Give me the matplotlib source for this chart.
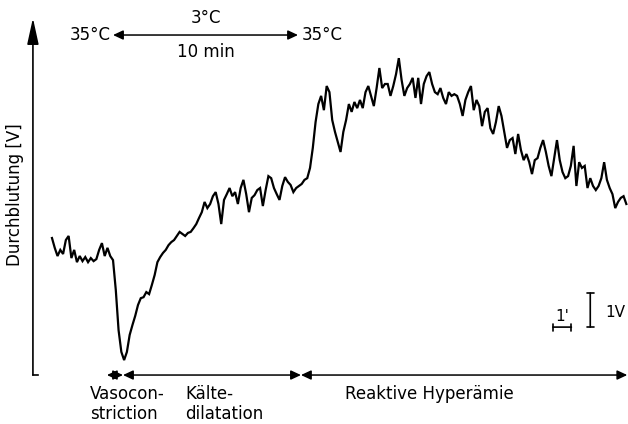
import numpy as np
import matplotlib
matplotlib.use("Agg")
import matplotlib.pyplot as plt

# recorder trace: flow in V, one sample every 0.15 min
dt = 0.15
flow = [
    4.03, 3.74, 3.50, 3.68, 3.56, 3.97, 4.09, 3.44, 3.68, 3.32,
    3.50, 3.35, 3.47, 3.32, 3.44, 3.35, 3.41, 3.68, 3.88, 3.50,
    3.74, 3.50, 3.38,
    2.50, 1.32, 0.68, 0.44, 0.68, 1.18, 1.47, 1.74, 2.06, 2.26,
    2.29, 2.44, 2.38, 2.65, 2.94, 3.32, 3.47, 3.59, 3.68, 3.82,
    3.91, 3.97, 4.09, 4.21, 4.15, 4.09, 4.18, 4.21, 4.32, 4.44,
    4.62, 4.79, 5.09, 4.91, 5.03, 5.26, 5.38, 5.03, 4.44, 5.15,
    5.32, 5.50, 5.26, 5.38, 5.03, 5.50, 5.74, 5.32, 4.79, 5.21,
    5.29, 5.44, 5.50, 4.97, 5.44, 5.85, 5.79, 5.50, 5.32, 5.15,
    5.56, 5.82, 5.68, 5.59, 5.38, 5.50, 5.56, 5.62, 5.74, 5.79,
    6.09, 6.68, 7.44, 7.97, 8.21, 7.79, 8.50, 8.32, 7.50, 7.15,
    6.85, 6.56, 7.15, 7.50,
    7.97, 7.74, 8.03, 7.85, 8.09, 7.85, 8.32, 8.50, 8.21, 7.91,
    8.44, 9.03, 8.44, 8.56, 8.56, 8.21, 8.50, 8.85, 9.32, 8.68,
    8.21, 8.44, 8.56, 8.74, 8.15, 8.74, 7.97, 8.56, 8.79, 8.91,
    8.56, 8.32, 8.26, 8.44, 8.15, 7.97, 8.32, 8.21, 8.26,
    8.21, 7.97, 7.62, 8.09, 8.32, 8.50, 7.79, 8.09, 7.91, 7.32,
    7.74, 7.85, 7.26, 7.09, 7.44, 7.91, 7.62, 7.15, 6.68, 6.91,
    6.97, 6.50, 7.09, 6.62, 6.32, 6.50, 6.26, 5.91, 6.32,
    6.38, 6.68, 6.91, 6.56, 6.15, 5.85, 6.38, 6.91, 6.32, 5.97,
    5.79, 5.85, 6.15, 6.74, 5.56, 6.26, 6.09, 6.15, 5.50, 5.79,
    5.56, 5.44, 5.56, 5.79, 6.26, 5.74, 5.50, 5.32, 4.91, 5.09,
    5.21, 5.26, 5.03,
]
time = np.arange(len(flow)) * dt

# cooling period (minutes on the trace time base)
cold_start, cold_end = 3.3, 13.3
temp_labels = ["35°C", "3°C", "35°C"]
cold_duration = "10 min"

# response phases along the bottom
phase_edges = [2.97, 3.84, 13.46, 31.1]
phase_names = ["Vasocon-\nstriction", "Kälte-\ndilatation", "Reaktive Hyperämie"]

# calibration bars
scale_time = 1.0   # min
scale_volt = 1.0   # V

plt.rcParams["font.family"] = ["DejaVu Sans"]
fig = plt.figure(figsize=(6.28, 4.24), dpi=100)
ax = fig.add_axes([0, 0, 1, 1])
ax.set_xlim(-2.81, 31.14)
ax.set_ylim(-1.44, 11.03)
ax.axis("off")

ax.plot(time, flow, color="black", lw=1.6, solid_joinstyle="miter")

# y axis with arrow
ax_x = -1.03
ax.annotate("", xy=(ax_x, 10.5), xytext=(ax_x, 0),
            arrowprops=dict(arrowstyle="-|>,head_length=1.6,head_width=0.35",
                            color="black", lw=1.2, shrinkA=0, shrinkB=0,
                            mutation_scale=10))
ax.plot([ax_x, ax_x + 0.3], [0, 0], color="black", lw=1.2)
ax.text(-2.0, 5.3, "Durchblutung [V]", rotation=90, ha="center", va="center",
        fontsize=12)

arrow_kw = dict(arrowstyle="<|-|>,head_length=0.6,head_width=0.28",
                color="black", lw=1.1, shrinkA=0, shrinkB=0, mutation_scale=10)

# cooling arrow at the top
ax.annotate("", xy=(cold_start, 10.0), xytext=(cold_end, 10.0), arrowprops=arrow_kw)
ax.text(cold_start - 0.1, 10.0, temp_labels[0], ha="right", va="center", fontsize=12)
ax.text((cold_start + cold_end) / 2, 10.5, temp_labels[1], ha="center", va="center",
        fontsize=12)
ax.text(cold_end + 0.2, 10.0, temp_labels[2], ha="left", va="center", fontsize=12)
ax.text((cold_start + cold_end) / 2, 9.5, cold_duration, ha="center", va="center",
        fontsize=12)

# phase arrows at the bottom
for a, b in zip(phase_edges[:-1], phase_edges[1:]):
    ax.annotate("", xy=(a, 0), xytext=(b, 0), arrowprops=arrow_kw)

label_x = [2.05, 7.19, 15.84]
for lx, name in zip(label_x, phase_names):
    ax.text(lx, -0.3, name, ha="left", va="top", fontsize=12, linespacing=1.1)

# calibration bars
bar_kw = dict(arrowstyle="|-|,widthA=0.25,widthB=0.25", color="black", lw=1.2,
              shrinkA=0, shrinkB=0, mutation_scale=10)
ax.annotate("", xy=(27.08, 1.41), xytext=(27.08 + scale_time, 1.41), arrowprops=bar_kw)
ax.text(27.58, 1.5, "1'", ha="center", va="bottom", fontsize=11)
ax.annotate("", xy=(29.1, 1.41), xytext=(29.1, 1.41 + scale_volt), arrowprops=bar_kw)
ax.text(29.9, 1.85, "1V", ha="left", va="center", fontsize=11)

fig.savefig("out.png", dpi=100)
